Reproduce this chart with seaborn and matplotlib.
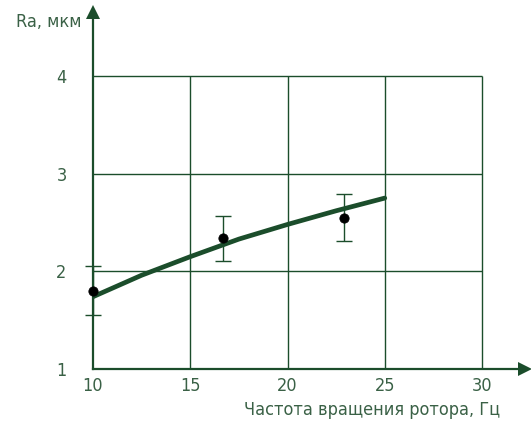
import matplotlib
matplotlib.use("Agg")
import matplotlib.pyplot as plt
import seaborn as sns
import pandas as pd

sns.set_theme(style="white")
plt.rcParams['font.family'] = ['DejaVu Sans']
plt.rcParams['font.stretch'] = 'condensed'

# Measured points with error bars
freq_pts = [10.0, 16.7, 22.9]
ra_pts = [1.80, 2.34, 2.55]
ra_err = [0.25, 0.23, 0.24]

# Fitted curve
freq_fit = [10.0, 12.5, 15.0, 17.5, 20.0, 22.5, 25.0]
ra_fit = [1.74, 1.96, 2.15, 2.33, 2.48, 2.62, 2.75]

x_ticks = [10, 15, 20, 25, 30]
y_ticks = [1, 2, 3, 4]

green = "#1b4d2b"
text_c = "#3a6146"

fig = plt.figure(figsize=(5.31, 4.30), dpi=100)
W, H = 531, 430
left, right, bottom, top = 93, 525, 369, 12
ax = fig.add_axes([left / W, 1 - bottom / H, (right - left) / W, (bottom - top) / H])

xs = (482 - 93) / 20.0
ys = (369 - 76) / 3.0
ax.set_xlim(10, 10 + (right - left) / xs)
ax.set_ylim(1, 1 + (bottom - top) / ys)

# grid inside the frame
ax.hlines([2, 3, 4], 10, 30, color=green, lw=1.0, zorder=1)
ax.vlines([15, 20, 25, 30], 1, 4, color=green, lw=1.0, zorder=1)

df_fit = pd.DataFrame({"f": freq_fit, "ra": ra_fit})
sns.lineplot(data=df_fit, x="f", y="ra", ax=ax, color=green, lw=3.4, zorder=3)

ax.errorbar(freq_pts, ra_pts, yerr=ra_err, fmt="none", ecolor=green, elinewidth=1.0,
            capsize=6, capthick=1.0, zorder=2, clip_on=False)
df_pts = pd.DataFrame({"f": freq_pts, "ra": ra_pts})
sns.scatterplot(data=df_pts, x="f", y="ra", ax=ax, color="black", s=45, zorder=4,
                edgecolor="black", clip_on=False)

for s in ["top", "right"]:
    ax.spines[s].set_visible(False)
for s in ["left", "bottom"]:
    ax.spines[s].set_color(green)
    ax.spines[s].set_linewidth(1.6)

# axis arrows
ax.plot(1, 0, ">", transform=ax.transAxes, clip_on=False, color=green, ms=10, markeredgewidth=0)
ax.plot(0, 1, "^", transform=ax.transAxes, clip_on=False, color=green, ms=10, markeredgewidth=0)

ax.set_xticks(x_ticks)
ax.set_yticks(y_ticks)
ax.tick_params(length=0, labelsize=13, colors=text_c, pad=6)
ax.tick_params(axis="y", pad=19)
ax.set_xlabel("")
ax.set_ylabel("")

fig.text(16 / W, 1 - 22 / H, "Ra, мкм", fontsize=13, color=text_c, va="center", ha="left")
fig.text(500 / W, 1 - 410 / H, "Частота вращения ротора, Гц", fontsize=13, color=text_c,
         va="center", ha="right")

fig.savefig("out.png", dpi=100)
